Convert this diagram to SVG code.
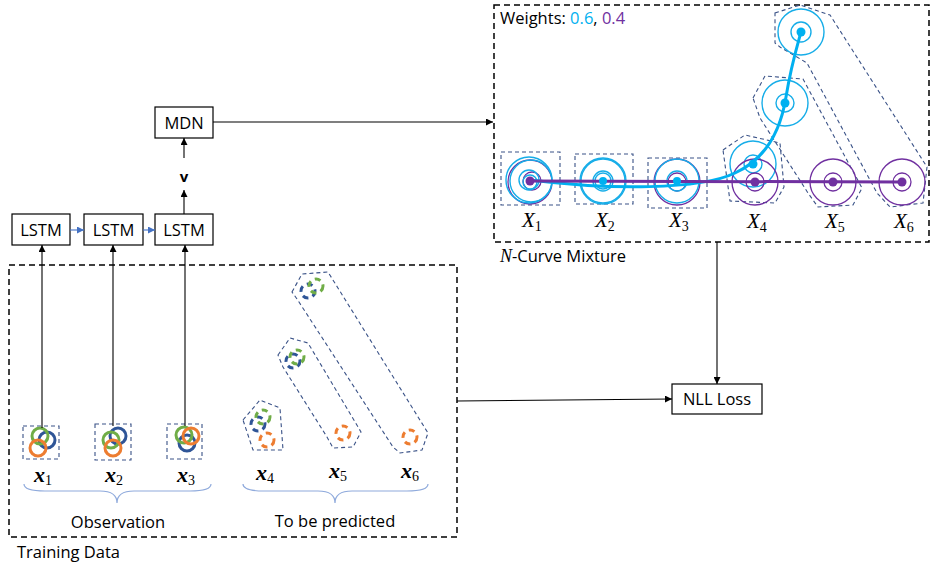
<svg xmlns="http://www.w3.org/2000/svg" width="933" height="567" viewBox="0 0 933 567">
<style>
.box{fill:#fff;stroke:#000;stroke-width:1.2}
.lbl{font-family:"Open Sans","Noto Sans",sans-serif;font-size:16.5px;fill:#000}
.region{fill:none;stroke:#000;stroke-width:1.5;stroke-dasharray:6 4}
.hull{fill:none;stroke:#3A5287;stroke-width:1.1;stroke-dasharray:4 3}
.conn{fill:none;stroke:#000;stroke-width:1.1}
.bconn{fill:none;stroke:#4472C4;stroke-width:1.1}
.brace{fill:none;stroke:#8FAADC;stroke-width:1.2}
.math{font-family:"Liberation Serif",serif;font-style:italic;font-size:21px;fill:#000}
.bmath{font-family:"Liberation Serif",serif;font-style:italic;font-weight:bold;font-size:22px;fill:#000}
.sub{font-style:normal;font-weight:normal;font-size:14px}
.cb{fill:none;stroke:#16ADE8;stroke-width:1.4}
.cp{fill:none;stroke:#7030A0;stroke-width:1.3}
.g{fill:none;stroke:#70AD47;stroke-width:3}
.bl{fill:none;stroke:#2F5597;stroke-width:3}
.o{fill:none;stroke:#ED7D31;stroke-width:3}
.dash{stroke-dasharray:6 4.5}
</style>
<defs>
<marker id="ah" viewBox="0 0 10 10" refX="10" refY="5" markerWidth="7" markerHeight="7" orient="auto" markerUnits="userSpaceOnUse"><path d="M0,0 L10,5 L0,10 z" fill="#000"/></marker>
<marker id="ahb" viewBox="0 0 10 10" refX="10" refY="5" markerWidth="7" markerHeight="7" orient="auto" markerUnits="userSpaceOnUse"><path d="M0,0 L10,5 L0,10 z" fill="#4472C4"/></marker>
</defs>

<!-- Training data region -->
<g id="training-data">
<rect class="region" x="9" y="265" width="448" height="272"/>
<text class="lbl" x="17" y="558">Training Data</text>
</g>

<g id="obs-x1">
<rect class="hull" x="23" y="426" width="36" height="33"/>
<circle class="bl" cx="47" cy="440" r="8"/>
<circle class="g" cx="40" cy="436" r="8"/>
<circle class="o" cx="38" cy="448" r="8"/>
<text class="bmath" x="34" y="482">x<tspan class="sub" dy="3">1</tspan></text>
</g>
<g id="obs-x2">
<rect class="hull" x="95" y="424" width="36" height="36"/>
<circle class="bl" cx="118" cy="436" r="8"/>
<circle class="g" cx="111" cy="440" r="8"/>
<circle class="o" cx="113" cy="448" r="8"/>
<text class="bmath" x="105" y="482">x<tspan class="sub" dy="3">2</tspan></text>
</g>
<g id="obs-x3">
<rect class="hull" x="167" y="424" width="35" height="35"/>
<circle class="bl" cx="187" cy="443" r="8"/>
<circle class="g" cx="184" cy="435" r="8"/>
<circle class="o" cx="191" cy="436" r="8"/>
<text class="bmath" x="177" y="482">x<tspan class="sub" dy="3">3</tspan></text>
</g>

<g id="pred-x4">
<polygon class="hull" points="243,420 260,400 280,408 283,450 253,450"/>
<circle class="bl dash" cx="258" cy="424" r="7"/>
<circle class="g dash" cx="263" cy="417" r="7"/>
<circle class="o dash" cx="267" cy="440" r="7"/>
<text class="bmath" x="256" y="480">x<tspan class="sub" dy="3">4</tspan></text>
</g>
<g id="pred-x5">
<polygon class="hull" points="278,355 290,338 308,343 361,432 353,447 333,448 327,437 283,367"/>
<circle class="bl dash" cx="293" cy="361" r="7"/>
<circle class="g dash" cx="297" cy="357" r="7"/>
<circle class="o dash" cx="343" cy="433" r="7"/>
<text class="bmath" x="329" y="478">x<tspan class="sub" dy="3">5</tspan></text>
</g>
<g id="pred-x6">
<polygon class="hull" points="292,292 302,274 328,272 428,433 422,450 400,453 393,447 297,299"/>
<circle class="bl dash" cx="308" cy="291" r="7"/>
<circle class="g dash" cx="316" cy="286" r="7"/>
<circle class="o dash" cx="410" cy="437" r="7"/>
<text class="bmath" x="401" y="478">x<tspan class="sub" dy="3">6</tspan></text>
</g>

<g id="observation">
<path class="brace" d="M24,484 Q24,491 45,491 L100,491 Q117,491 117,503 Q117,491 134,491 L190,491 Q211,491 211,484"/>
<text class="lbl" x="118" y="528" text-anchor="middle">Observation</text>
</g>
<g id="to-be-predicted">
<path class="brace" d="M243,484 Q243,491 264,491 L318,491 Q335,491 335,503 Q335,491 352,491 L407,491 Q428,491 428,484"/>
<text class="lbl" x="335" y="527" text-anchor="middle">To be predicted</text>
</g>

<!-- model -->
<g id="lstm1"><rect class="box" x="12" y="214" width="58" height="31"/><text class="lbl" x="41" y="236" text-anchor="middle">LSTM</text></g>
<g id="lstm2"><rect class="box" x="84" y="214" width="59" height="31"/><text class="lbl" x="113.5" y="236" text-anchor="middle">LSTM</text></g>
<g id="lstm3"><rect class="box" x="155" y="214" width="58" height="31"/><text class="lbl" x="184" y="236" text-anchor="middle">LSTM</text></g>
<g id="v"><text x="184" y="182" text-anchor="middle" font-family="'Open Sans','Noto Sans',sans-serif" font-weight="bold" font-size="15">v</text></g>
<g id="mdn"><rect class="box" x="155" y="107" width="58" height="31"/><text class="lbl" x="184" y="129" text-anchor="middle">MDN</text></g>
<g id="nll-loss"><rect class="box" x="672" y="384" width="90" height="30"/><text class="lbl" x="717" y="405" text-anchor="middle">NLL Loss</text></g>

<!-- N-curve mixture region -->
<g id="mixture">
<rect class="region" x="494" y="5" width="435" height="237"/>
<text class="lbl" x="500" y="24">Weights: <tspan fill="#00B0F0">0.6</tspan>, <tspan fill="#7030A0">0.4</tspan></text>
<text class="lbl" x="500" y="262"><tspan font-family="'Liberation Serif',serif" font-style="italic" font-size="18">N</tspan>-Curve Mixture</text>

<rect class="hull" x="501" y="152" width="59" height="53"/>
<rect class="hull" x="575" y="154" width="58" height="50"/>
<rect class="hull" x="648" y="158" width="59" height="50"/>
<polygon class="hull" points="723,150 745,135 780,143 784,187 775,203 730,201"/>
<polygon class="hull" points="753,98 765,76 803,79 862,188 853,205 818,207 808,193 760,118"/>
<polygon class="hull" points="775,13 800,5 830,15 927,167 923,203 890,207 877,193 807,63 780,47 775,43"/>

<!-- circles -->
<circle class="cp" cx="530" cy="182" r="22"/>
<circle class="cb" cx="529" cy="180" r="23"/>
<circle class="cb" cx="531" cy="181" r="21"/>
<circle class="cp" cx="532" cy="181" r="9"/>
<circle class="cb" cx="529" cy="180" r="10"/>
<circle class="cb" cx="530" cy="182" r="7"/>
<circle class="cb" cx="603" cy="181" r="23"/>
<circle class="cb" cx="603" cy="181" r="22" stroke="#2E86C8"/>
<circle class="cb" cx="603" cy="181" r="10"/>
<circle class="cb" cx="603" cy="181" r="8" stroke="#2E86C8"/>
<circle class="cp" cx="677" cy="182" r="23"/>
<circle class="cb" cx="677" cy="181" r="22"/>
<circle class="cp" cx="677" cy="182" r="9"/>
<circle class="cb" cx="677" cy="181" r="10"/>
<circle class="cb" cx="753" cy="164" r="23"/>
<circle class="cb" cx="753" cy="164" r="9"/>
<circle class="cp" cx="755" cy="182" r="23"/>
<circle class="cp" cx="755" cy="182" r="9"/>
<circle class="cb" cx="785" cy="103" r="23"/>
<circle class="cb" cx="785" cy="103" r="9"/>
<circle class="cb" cx="801" cy="32" r="23"/>
<circle class="cb" cx="801" cy="32" r="10"/>
<circle class="cp" cx="833" cy="182" r="23"/>
<circle class="cp" cx="833" cy="182" r="9"/>
<circle class="cp" cx="902" cy="182" r="23"/>
<circle class="cp" cx="902" cy="182" r="9"/>

<!-- curves -->
<path d="M530,180 C610,190 700,190 735,173 C768,158 781,128 786,97 C791,66 796,50 801,32" fill="none" stroke="#00B0F0" stroke-width="3"/>
<line x1="530" y1="181" x2="902" y2="182" stroke="#7030A0" stroke-width="3"/>
<g fill="#00B0F0">
<circle cx="603" cy="181" r="4"/><circle cx="677" cy="181" r="4"/>
<circle cx="753" cy="164" r="4.5"/><circle cx="785" cy="103" r="4.5"/><circle cx="801" cy="32" r="4.5"/>
</g>
<g fill="#7030A0">
<circle cx="530" cy="181" r="4.5"/><circle cx="755" cy="182" r="4.5"/><circle cx="833" cy="182" r="4.5"/><circle cx="902" cy="182" r="4.5"/>
</g>

<text class="math" x="522" y="227">X<tspan class="sub" dy="4">1</tspan></text>
<text class="math" x="595" y="227">X<tspan class="sub" dy="4">2</tspan></text>
<text class="math" x="669" y="227">X<tspan class="sub" dy="4">3</tspan></text>
<text class="math" x="747" y="228">X<tspan class="sub" dy="4">4</tspan></text>
<text class="math" x="825" y="228">X<tspan class="sub" dy="4">5</tspan></text>
<text class="math" x="894" y="228">X<tspan class="sub" dy="4">6</tspan></text>
</g>

<!-- connectors -->
<g id="connectors">
<line class="conn" x1="42" y1="428" x2="42" y2="245" marker-end="url(#ah)"/>
<line class="conn" x1="113" y1="426" x2="113" y2="245" marker-end="url(#ah)"/>
<line class="conn" x1="185" y1="426" x2="185" y2="245" marker-end="url(#ah)"/>
<line class="bconn" x1="70" y1="230" x2="84" y2="230" marker-end="url(#ahb)"/>
<line class="bconn" x1="143" y1="230" x2="155" y2="230" marker-end="url(#ahb)"/>
<line class="conn" x1="184" y1="214" x2="184" y2="190" marker-end="url(#ah)"/>
<line class="conn" x1="184" y1="158" x2="184" y2="138" marker-end="url(#ah)"/>
<line class="conn" x1="213" y1="122" x2="493" y2="122" marker-end="url(#ah)"/>
<line class="conn" x1="717" y1="242" x2="717" y2="384" marker-end="url(#ah)"/>
<line class="conn" x1="457" y1="401" x2="672" y2="399" marker-end="url(#ah)"/>
</g>
</svg>
